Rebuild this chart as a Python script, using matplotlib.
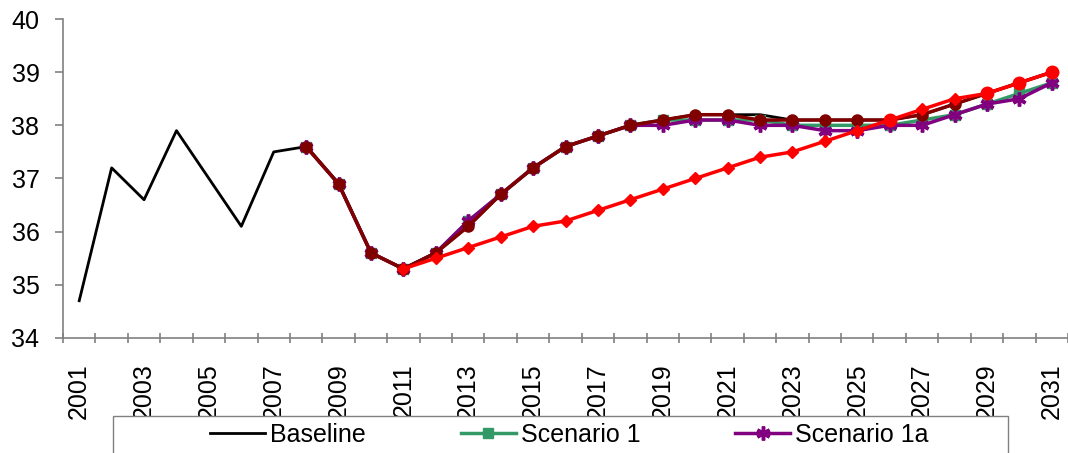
import numpy as np
import matplotlib.pyplot as plt
from matplotlib.patches import Rectangle

plt.rcParams['font.family'] = ['Liberation Sans', 'DejaVu Sans']

# --- Data ---
years = list(range(2001, 2032))
tick_years = [str(y) for y in years[::2]]

nan = np.nan
baseline = [34.7, 37.2, 36.6, 37.9, 37.0, 36.1, 37.5, 37.6, 36.9, 35.6,
            35.3, 35.6, 36.1, 36.7, 37.2, 37.6, 37.8, 38.0, 38.1, 38.2,
            38.2, 38.2, 38.1, 38.1, 38.1, 38.1, 38.2, 38.4, 38.6, 38.8, 39.0]
scenario1 = [nan] * 7 + [37.6, 36.9, 35.6, 35.3, 35.6, 36.2, 36.7, 37.2, 37.6,
                         37.8, 38.0, 38.1, 38.1, 38.1, 38.1, 38.0, 38.0, 38.0,
                         38.0, 38.1, 38.2, 38.4, 38.6, 38.8]
scenario1a = [nan] * 7 + [37.6, 36.9, 35.6, 35.3, 35.6, 36.2, 36.7, 37.2, 37.6,
                          37.8, 38.0, 38.0, 38.1, 38.1, 38.0, 38.0, 37.9, 37.9,
                          38.0, 38.0, 38.2, 38.4, 38.5, 38.8]
darkred_series = [nan] * 7 + [37.6, 36.9, 35.6, 35.3, 35.6, 36.1, 36.7, 37.2, 37.6,
                              37.8, 38.0, 38.1, 38.2, 38.2, 38.1, 38.1, 38.1, 38.1,
                              38.1, 38.2, 38.4, 38.6, 38.8, 39.0]
red_diamond = [nan] * 10 + [35.3, 35.5, 35.7, 35.9, 36.1, 36.2, 36.4, 36.6, 36.8,
                            37.0, 37.2, 37.4, 37.5, 37.7, 37.9, 38.1, 38.3, 38.5,
                            38.6, 38.8, 39.0]
red_circle = [nan] * 25 + [38.1, nan, nan, 38.6, 38.8, 39.0]

x = np.arange(len(years))

fig = plt.figure(figsize=(10.68, 4.53), dpi=100)
ax = fig.add_axes([0.059, 0.254, 0.941, 0.704])

h_base, = ax.plot(x, baseline, color='black', lw=2, label='Baseline')
h_s1, = ax.plot(x, scenario1, color='#339966', lw=2.5, marker='s', ms=7,
                label='Scenario 1')
h_s1a, = ax.plot(x, scenario1a, color='#800080', lw=2.5, marker=(6, 2, 0), ms=10,
                 mew=2.5, label='Scenario 1a')
ax.plot(x, darkred_series, color='#800000', lw=2.5, marker='o', ms=8)
ax.plot(x, red_diamond, color='#FF0000', lw=2.5, marker='D', ms=6)
ax.plot(x, red_circle, color='#FF0000', lw=0, marker='o', ms=9)

# --- Axes formatting (Excel style) ---
ax.set_xlim(-0.5, len(years) - 0.5)
ax.set_ylim(34, 40)
ax.set_yticks(range(34, 41))
ax.set_xticks(x[::2])
ax.set_xticklabels(tick_years, rotation=90)
ax.set_xticks(np.arange(-0.5, len(years)), minor=True)

for side in ['top', 'right']:
    ax.spines[side].set_visible(False)
for side in ['left', 'bottom']:
    ax.spines[side].set_color('#808080')
    ax.spines[side].set_linewidth(1.2)

ax.tick_params(axis='y', labelsize=18, color='#808080', length=6, width=1.2, pad=11)
ax.tick_params(axis='x', which='major', labelsize=18, length=0, pad=18)
ax.tick_params(axis='x', which='minor', color='#808080', length=7, width=1.2,
               direction='inout')

# legend box is cut off by the bottom edge, like the original
box = Rectangle((113 / 1068, -0.1), (1008 - 113) / 1068, 0.1 + 37 / 453,
                transform=fig.transFigure, facecolor='white', edgecolor='#808080',
                linewidth=1.0, zorder=5)
fig.patches.append(box)

leg = fig.legend(handles=[h_base, h_s1, h_s1a], loc='upper left',
                 bbox_to_anchor=(210 / 1068, 0.067), ncol=3, fontsize=18,
                 frameon=False, borderpad=0, borderaxespad=0,
                 handlelength=2.2, handletextpad=0.2, columnspacing=3.8)
leg.set_zorder(6)

fig.savefig('out.png', dpi=100)
